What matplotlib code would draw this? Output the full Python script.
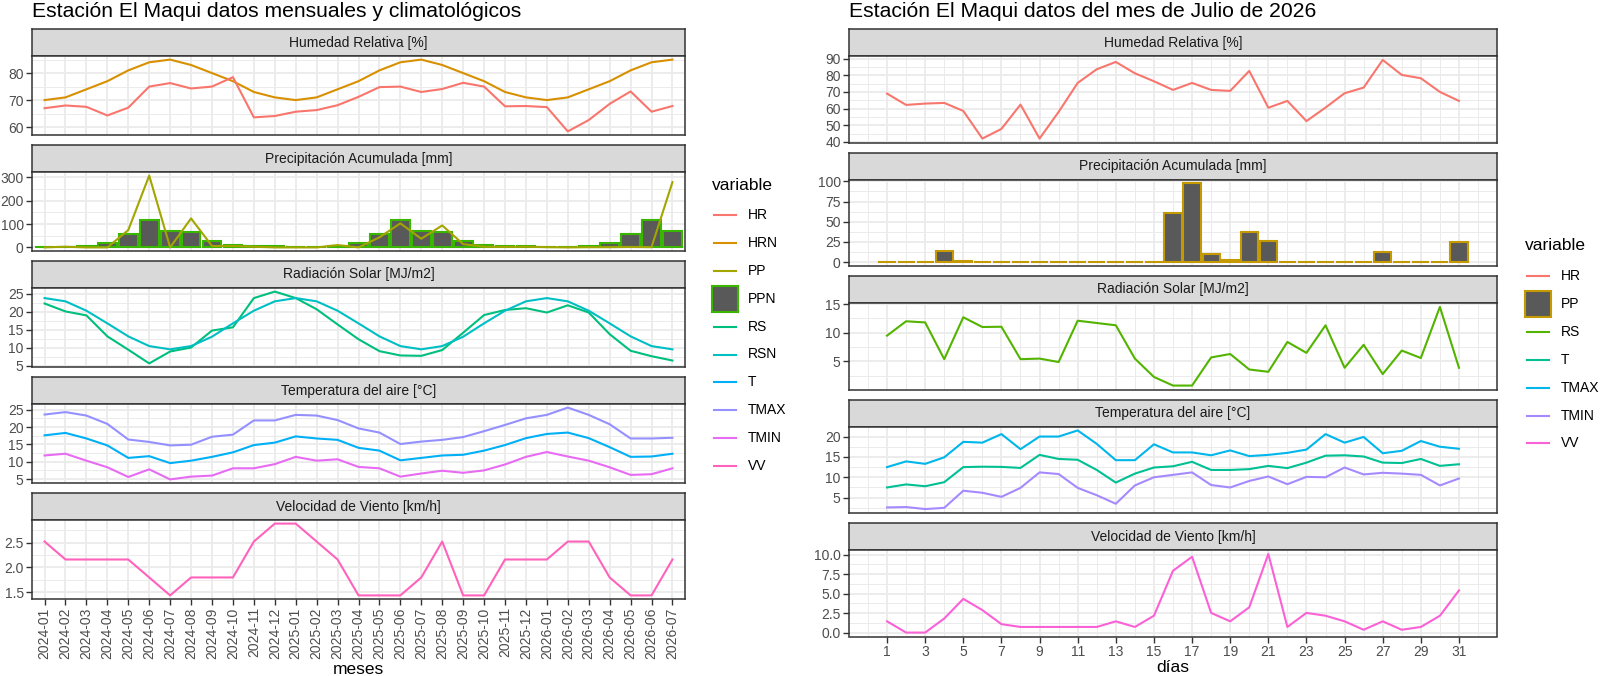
import matplotlib
matplotlib.use('Agg')
import matplotlib.pyplot as plt
import numpy as np
from matplotlib.ticker import MultipleLocator, AutoMinorLocator, FormatStrFormatter, FixedLocator
from matplotlib.lines import Line2D
from matplotlib.patches import Rectangle

plt.rcParams['font.family'] = ['Liberation Sans', 'DejaVu Sans']

# ---------------- data: monthly (left) ----------------
months = ['2024-01', '2024-02', '2024-03', '2024-04', '2024-05', '2024-06', '2024-07', '2024-08',
          '2024-09', '2024-10', '2024-11', '2024-12', '2025-01', '2025-02', '2025-03', '2025-04',
          '2025-05', '2025-06', '2025-07', '2025-08', '2025-09', '2025-10', '2025-11', '2025-12',
          '2026-01', '2026-02', '2026-03', '2026-04', '2026-05', '2026-06', '2026-07']
HR_m = [67.0, 68.0, 67.5, 64.3, 67.2, 75.0, 76.3, 74.3, 75.0, 78.5, 63.6, 64.1, 65.7, 66.3, 68.1, 71.2,
        74.8, 75.0, 73.0, 74.1, 76.4, 75.0, 67.7, 67.8, 67.4, 58.4, 62.6, 68.6, 73.2, 65.7, 67.8]
HRN_m = [70, 71, 74, 77, 81, 84, 85, 83, 80, 77, 73, 71, 70, 71, 74, 77, 81, 84, 85, 83, 80, 77, 73, 71,
         70, 71, 74, 77, 81, 84, 85]
PP_m = [0, 3, 0, 0, 74, 307, 0, 124, 6, 6, 3, 0, 0, 0, 10, 0, 43, 103, 37, 94, 14, 3, 2, 3,
        1, 0, 1, 1, 2, 1, 279]
PPN_m = [1, 1, 8, 20, 58, 116, 70, 67, 27, 12, 4, 4, 1, 1, 8, 20, 58, 116, 70, 67, 27, 12, 4, 4,
         1, 1, 8, 20, 58, 116, 70]
RS_m = [22.3, 20.1, 19.0, 13.2, 9.5, 5.7, 9.0, 10.1, 14.8, 15.7, 23.8, 25.6, 23.8, 20.7, 16.5, 12.4,
        9.1, 7.9, 7.8, 9.4, 14.2, 19.1, 20.5, 21.0, 19.8, 21.8, 19.8, 13.8, 9.2, 7.7, 6.5]
RSN_m = [23.8, 22.9, 20.3, 16.8, 13.2, 10.5, 9.6, 10.5, 13.1, 16.8, 20.3, 22.9, 23.8, 22.9, 20.3, 16.8,
         13.2, 10.5, 9.6, 10.5, 13.1, 16.8, 20.3, 22.9, 23.8, 22.9, 20.3, 16.8, 13.2, 10.5, 9.6]
TMAX_m = [23.6, 24.3, 23.3, 20.9, 16.4, 15.7, 14.7, 14.9, 17.2, 17.8, 21.9, 21.9, 23.5, 23.3, 22.0, 19.6,
          18.4, 15.1, 15.8, 16.3, 17.1, 18.8, 20.6, 22.5, 23.5, 25.6, 23.5, 20.8, 16.7, 16.7, 16.9]
T_m = [17.6, 18.3, 16.7, 14.7, 11.1, 11.6, 9.6, 10.3, 11.4, 12.7, 14.8, 15.5, 17.3, 16.7, 16.3, 14.0,
       13.2, 10.4, 11.1, 11.8, 12.0, 13.2, 14.8, 16.8, 18.0, 18.4, 16.8, 14.2, 11.4, 11.5, 12.3]
TMIN_m = [11.8, 12.3, 10.3, 8.4, 5.6, 7.8, 4.9, 5.7, 6.0, 8.1, 8.1, 9.3, 11.4, 10.3, 10.7, 8.5,
          8.1, 5.7, 6.6, 7.4, 6.8, 7.5, 9.2, 11.4, 12.8, 11.5, 10.3, 8.4, 6.2, 6.4, 8.1]
VV_m = [2.52, 2.16, 2.16, 2.16, 2.16, 1.8, 1.44, 1.8, 1.8, 1.8, 2.52, 2.88, 2.88, 2.52, 2.16, 1.44,
        1.44, 1.44, 1.8, 2.52, 1.44, 1.44, 2.16, 2.16, 2.16, 2.52, 2.52, 1.8, 1.44, 1.44, 2.16]

# ---------------- data: daily July 2026 (right) ----------------
days = list(range(1, 32))
HR_d = [69.0, 62.2, 63.0, 63.4, 58.6, 42.0, 47.8, 62.4, 42.0, 58.0, 75.4, 83.6, 88.0, 81.2, 76.4, 71.2,
        75.4, 71.2, 70.6, 82.6, 60.5, 64.6, 52.5, 60.6, 69.2, 72.6, 89.2, 80.2, 78.2, 70.0, 64.6]
PP_d = [0, 0, 0, 13.5, 0.8, 0, 0, 0, 0, 0, 0, 0, 0, 0, 0, 61.0, 97.5, 9.4, 2.2, 37.5, 26.2, 0, 0, 0,
        0, 0, 13.1, 0, 0, 0, 25.0]
RS_d = [9.5, 12.0, 11.8, 5.4, 12.7, 11.0, 11.05, 5.4, 5.5, 4.9, 12.1, 11.7, 11.3, 5.5, 2.3, 0.8,
        0.8, 5.7, 6.3, 3.6, 3.2, 8.4, 6.5, 11.3, 3.9, 7.9, 2.8, 6.9, 5.6, 14.5, 3.9]
T_d = [7.5, 8.25, 7.8, 8.8, 12.5, 12.6, 12.55, 12.3, 15.5, 14.5, 14.3, 11.8, 8.7, 10.9, 12.4, 12.7,
       13.8, 11.8, 11.8, 12.0, 12.8, 12.25, 13.6, 15.3, 15.4, 15.1, 13.6, 13.5, 14.5, 12.8, 13.2]
TMAX_d = [12.5, 13.9, 13.3, 14.9, 18.7, 18.5, 20.6, 16.9, 20.0, 20.0, 21.5, 18.2, 14.2, 14.2, 18.1, 16.1,
          16.1, 15.4, 16.6, 15.2, 15.5, 16.0, 16.8, 20.6, 18.5, 19.9, 15.9, 16.5, 18.9, 17.5, 17.0]
TMIN_d = [2.6, 2.7, 2.2, 2.5, 6.7, 6.2, 5.2, 7.4, 11.2, 10.8, 7.4, 5.6, 3.5, 8.0, 10.0, 10.6,
          11.2, 8.1, 7.5, 9.1, 10.2, 8.3, 10.1, 10.0, 12.4, 10.7, 11.1, 10.9, 10.6, 8.0, 9.7]
VV_d = [1.44, 0.0, 0.0, 1.8, 4.32, 2.88, 1.08, 0.72, 0.72, 0.72, 0.72, 0.72, 1.44, 0.72, 2.16, 7.92,
        9.72, 2.52, 1.44, 3.24, 10.08, 0.72, 2.52, 2.16, 1.44, 0.36, 1.44, 0.36, 0.72, 2.16, 5.4]

facet_titles = ['Humedad Relativa [%]', 'Precipitación Acumulada [mm]', 'Radiación Solar [MJ/m2]',
                'Temperatura del aire [°C]', 'Velocidad de Viento [km/h]']

# ---------------- style ----------------
W, H = 1600, 676
BORDER = '#333333'
GRID = '#EBEBEB'
STRIP = '#D9D9D9'
TICKC = '#4D4D4D'
BARFILL = '#595959'
LW = 1.5
FS_TICK = 10
FS_STRIP = 10
FS_LEG = 10
FS_TITLE = 15.2
FS_AX = 12.5

colL = {'HR': '#F8766D', 'HRN': '#D89000', 'PP': '#A3A500', 'PPN': '#39B600', 'RS': '#00BF7D',
        'RSN': '#00BFC4', 'T': '#00B0F6', 'TMAX': '#9590FF', 'TMIN': '#E76BF3', 'VV': '#FF62BC'}
colR = {'HR': '#F8766D', 'PP': '#C49A00', 'RS': '#53B400', 'T': '#00C094', 'TMAX': '#00B6EB',
        'TMIN': '#A58AFF', 'VV': '#FB61D7'}

fig = plt.figure(figsize=(16, 6.76), dpi=100)


def px_axes(x0, y0, x1, y1):
    return fig.add_axes([x0 / W, 1 - y1 / H, (x1 - x0) / W, (y1 - y0) / H])


def expand(vals, include_zero=False):
    lo, hi = min(vals), max(vals)
    if include_zero:
        lo = min(lo, 0)
    d = (hi - lo) * 0.05
    return lo - d, hi + d


def style_panel(ax, ystep, yfmt, bottom):
    ax.set_facecolor('white')
    for s in ax.spines.values():
        s.set_color(BORDER)
        s.set_linewidth(1.1)
    ax.yaxis.set_major_locator(MultipleLocator(ystep))
    ax.yaxis.set_minor_locator(AutoMinorLocator(2))
    ax.yaxis.set_major_formatter(FormatStrFormatter(yfmt))
    ax.grid(which='major', color=GRID, lw=1.3)
    ax.grid(which='minor', color=GRID, lw=0.7)
    ax.set_axisbelow(True)
    ax.tick_params(axis='y', which='major', length=4, width=1.0, color=BORDER,
                   labelsize=FS_TICK, labelcolor=TICKC, pad=2)
    ax.tick_params(axis='y', which='minor', length=0)
    ax.tick_params(axis='x', which='minor', length=0)
    if bottom:
        ax.tick_params(axis='x', which='major', length=4, width=1.0, color=BORDER,
                       labelsize=FS_TICK, labelcolor=TICKC, pad=2)
    else:
        ax.tick_params(axis='x', which='major', length=0, labelbottom=False)


def strip(x0, x1, top, text):
    sa = px_axes(x0, top, x1, top + 27)
    sa.set_facecolor(STRIP)
    sa.set_xticks([])
    sa.set_yticks([])
    for s in sa.spines.values():
        s.set_color(BORDER)
        s.set_linewidth(1.1)
    sa.text(0.5, 0.5, text, transform=sa.transAxes, ha='center', va='center',
            fontsize=FS_STRIP, color='#1A1A1A')


# ---------------- left: monthly facets ----------------
LX0, LX1 = 32, 685
left_series = [
    [('line', HRN_m, 'HRN'), ('line', HR_m, 'HR')],
    [('bar', PPN_m, 'PPN'), ('line', PP_m, 'PP')],
    [('line', RS_m, 'RS'), ('line', RSN_m, 'RSN')],
    [('line', TMAX_m, 'TMAX'), ('line', T_m, 'T'), ('line', TMIN_m, 'TMIN')],
    [('line', VV_m, 'VV')],
]
left_steps = [(10, '%d'), (100, '%d'), (5, '%d'), (5, '%d'), (0.5, '%.1f')]

for i, series in enumerate(left_series):
    stop = 29 + 116 * i
    ptop = stop + 27
    pbot = ptop + 79
    strip(LX0, LX1, stop, facet_titles[i])
    ax = px_axes(LX0, ptop, LX1, pbot)
    allv = []
    has_bar = False
    for kind, vals, name in series:
        allv += list(vals)
        if kind == 'bar':
            has_bar = True
            ax.bar(months, vals, width=0.9, color=BARFILL, edgecolor=colL[name], linewidth=1.5, zorder=2)
        else:
            ax.plot(months, vals, color=colL[name], lw=LW, zorder=3)
    ax.set_ylim(*expand(allv, include_zero=has_bar))
    ax.set_xlim(-0.6, len(months) - 0.4)
    style_panel(ax, *left_steps[i], bottom=(i == 4))
    if i == 4:
        ax.set_xticks(range(len(months)))
        ax.set_xticklabels(months, rotation=90, va='top', ha='center')

# ---------------- right: daily facets ----------------
RX0, RX1 = 849, 1497
right_series = [
    [('line', HR_d, 'HR')],
    [('bar', PP_d, 'PP')],
    [('line', RS_d, 'RS')],
    [('line', TMAX_d, 'TMAX'), ('line', T_d, 'T'), ('line', TMIN_d, 'TMIN')],
    [('line', VV_d, 'VV')],
]
right_steps = [(10, '%d'), (25, '%d'), (5, '%d'), (5, '%d'), (2.5, '%.1f')]
xr = expand([days[0] - 0.45, days[-1] + 0.45])

for i, series in enumerate(right_series):
    stop = 29 + 123.5 * i
    ptop = stop + 27
    pbot = ptop + 86.5
    strip(RX0, RX1, stop, facet_titles[i])
    ax = px_axes(RX0, ptop, RX1, pbot)
    allv = []
    has_bar = False
    for kind, vals, name in series:
        allv += list(vals)
        if kind == 'bar':
            has_bar = True
            ax.bar(days, vals, width=0.9, color=BARFILL, edgecolor=colR[name], linewidth=1.5, zorder=2)
        else:
            ax.plot(days, vals, color=colR[name], lw=LW, zorder=3)
    ax.set_ylim(*expand(allv, include_zero=has_bar))
    ax.set_xlim(*xr)
    ax.xaxis.set_major_locator(FixedLocator(days[::2]))
    ax.xaxis.set_minor_locator(FixedLocator(list(range(0, 33, 2))))
    style_panel(ax, *right_steps[i], bottom=(i == 4))

# ---------------- overlay: titles, axis titles, legends ----------------
ov = fig.add_axes([0, 0, 1, 1])
ov.set_xlim(0, W)
ov.set_ylim(H, 0)
ov.axis('off')
ov.patch.set_alpha(0)

ov.text(32, 17, 'Estación El Maqui datos mensuales y climatológicos', fontsize=FS_TITLE,
        ha='left', va='baseline', color='black')
ov.text(849, 17, 'Estación El Maqui datos del mes de Julio de 2026', fontsize=FS_TITLE,
        ha='left', va='baseline', color='black')
ov.text((LX0 + LX1) / 2, 669, 'meses', fontsize=FS_AX, ha='center', va='center')
ov.text((RX0 + RX1) / 2, 668, 'días', fontsize=FS_AX, ha='center', va='center')


def legend(x_title, y_title, entries, colors, bar_name, x_key, y0, step):
    ov.text(x_title, y_title, 'variable', fontsize=FS_AX, ha='left', va='center')
    for k, name in enumerate(entries):
        y = y0 + step * k
        if name == bar_name:
            ov.add_patch(Rectangle((x_key - 2, y - 13), 26, 26, facecolor=BARFILL,
                                   edgecolor=colors[name], linewidth=1.5))
        else:
            ov.add_line(Line2D([x_key, x_key + 22], [y, y], color=colors[name], lw=LW))
        ov.text(x_key + 34, y, name, fontsize=FS_LEG, ha='left', va='center', color='black')


legend(712, 185, ['HR', 'HRN', 'PP', 'PPN', 'RS', 'RSN', 'T', 'TMAX', 'TMIN', 'VV'], colL, 'PPN',
       714, 215, 27.9)
legend(1525, 246, ['HR', 'PP', 'RS', 'T', 'TMAX', 'TMIN', 'VV'], colR, 'PP',
       1527, 276, 27.9)

fig.savefig('out.png', dpi=100, facecolor='white')
